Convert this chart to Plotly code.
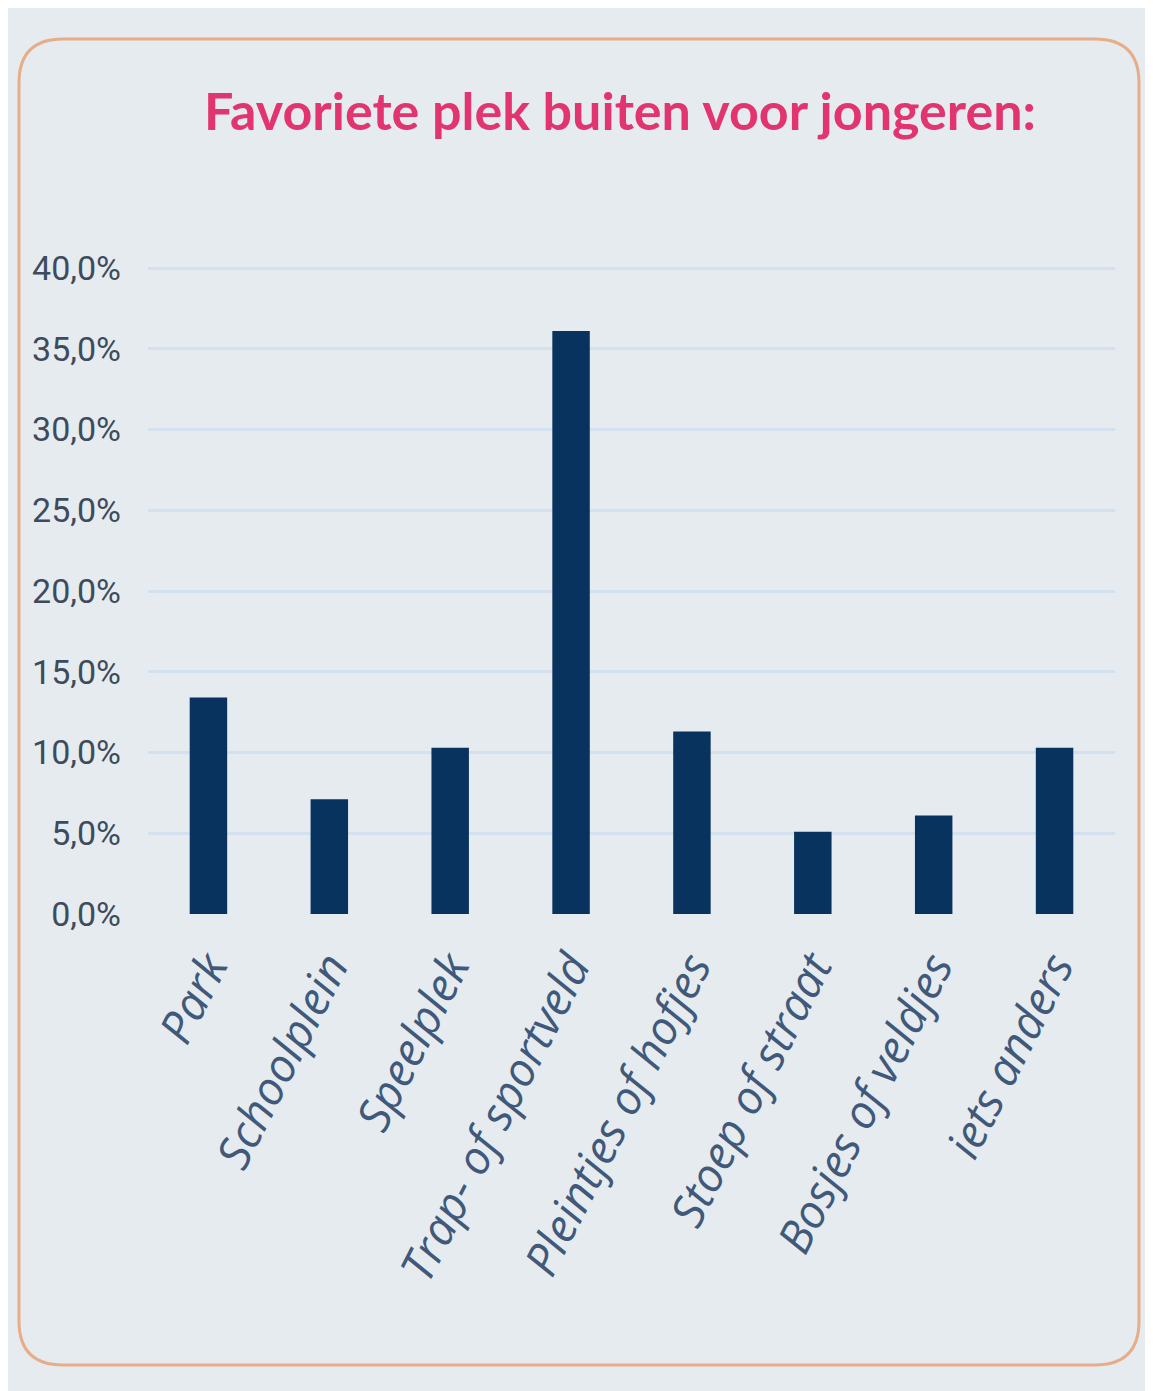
import plotly.graph_objects as go

categories = ["Park", "Schoolplein", "Speelplek", "Trap- of sportveld",
              "Pleintjes of hofjes", "Stoep of straat", "Bosjes of veldjes", "iets anders"]
values = [13.4, 7.1, 10.3, 36.1, 11.3, 5.1, 6.1, 10.3]
tick_vals = [0, 5, 10, 15, 20, 25, 30, 35, 40]
tick_text = ["0,0%", "5,0%", "10,0%", "15,0%", "20,0%", "25,0%", "30,0%", "35,0%", "40,0%"]
title_text = "Favoriete plek buiten voor jongeren:"

OFF = 8  # browser body margin
W, H = 1153 - OFF, 1391 - OFF
y0px, y40px = 914 - OFF, 268 - OFF
unit = (y0px - y40px) / 40.0
ymax = 40.25
L = 148 - OFF
R = W - (1115 - OFF)
T = int(round(y40px - (ymax - 40) * unit))
B = H - y0px
PW, PH = W - L - R, H - T - B

def px(x):
    return (x - OFF - L) / PW

def py(y):
    return (H - B - (y - OFF)) / PH

def rounded_path(x0, y0, x1, y1, r):
    return (f"M {px(x0 + r)},{py(y0)} L {px(x1 - r)},{py(y0)} "
            f"Q {px(x1)},{py(y0)} {px(x1)},{py(y0 + r)} "
            f"L {px(x1)},{py(y1 - r)} Q {px(x1)},{py(y1)} {px(x1 - r)},{py(y1)} "
            f"L {px(x0 + r)},{py(y1)} Q {px(x0)},{py(y1)} {px(x0)},{py(y1 - r)} "
            f"L {px(x0)},{py(y0 + r)} Q {px(x0)},{py(y0)} {px(x0 + r)},{py(y0)} Z")

fig = go.Figure(go.Bar(x=categories, y=values, marker_color="#08335f",
                       marker_line_width=0, width=0.31))

fig.update_layout(
    width=W, height=H,
    margin=dict(l=L, r=R, t=T, b=B),
    paper_bgcolor="#e6ebf0",
    plot_bgcolor="rgba(0,0,0,0)",
    showlegend=False,
    title=dict(text=title_text, x=(620 - OFF) / W, xref="container", xanchor="center",
               y=1 - (112 - OFF) / H, yref="container", yanchor="middle",
               font=dict(family="Lato", size=52, color="#e2356f", weight="bold")),
    shapes=[
        dict(type="path", xref="paper", yref="paper", layer="below",
             path=rounded_path(19, 39, 1139, 1365, 44),
             line=dict(color="#e6ad88", width=3)),
    ],
)

fig.update_xaxes(
    tickangle=-63,
    tickfont=dict(family="Open Sans", size=46, color="#40597a", style="italic"),
    ticklabelstandoff=16,
    showline=False, ticks="", showgrid=False,
)
fig.update_yaxes(
    range=[0, ymax], tickvals=tick_vals, ticktext=tick_text,
    tickfont=dict(family="Roboto", size=34, color="#3e4b5c"),
    ticklabelstandoff=26,
    showgrid=True, gridcolor="#d3e1ee", gridwidth=3,
    zeroline=False, showline=False, ticks="",
)

fig.write_html("out.html")
